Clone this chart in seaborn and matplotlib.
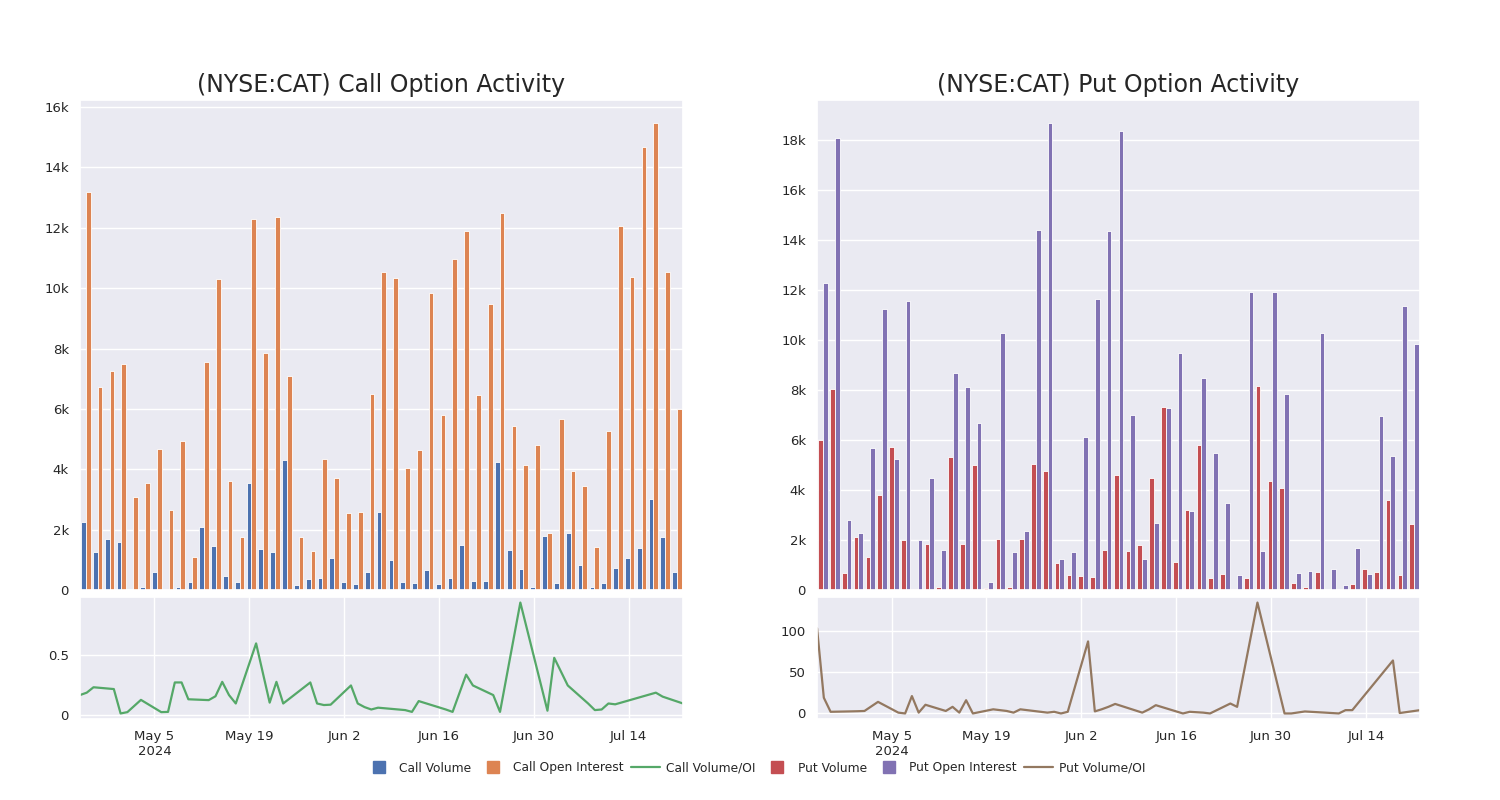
import matplotlib
matplotlib.use("Agg")
import matplotlib.pyplot as plt
import matplotlib.dates as mdates
from matplotlib.lines import Line2D
from matplotlib.ticker import FuncFormatter, MultipleLocator
import numpy as np
import pandas as pd
import seaborn as sns

# ---------------- data ----------------
dates = [
    "2024-04-24", "2024-04-25", "2024-04-26", "2024-04-29", "2024-04-30", "2024-05-01",
    "2024-05-03", "2024-05-06", "2024-05-07", "2024-05-08", "2024-05-09", "2024-05-10",
    "2024-05-13", "2024-05-14", "2024-05-15", "2024-05-16", "2024-05-17", "2024-05-20",
    "2024-05-22", "2024-05-23", "2024-05-24", "2024-05-28", "2024-05-29", "2024-05-30",
    "2024-05-31", "2024-06-03", "2024-06-04", "2024-06-05", "2024-06-06", "2024-06-07",
    "2024-06-11", "2024-06-12", "2024-06-13", "2024-06-17", "2024-06-18", "2024-06-20",
    "2024-06-21", "2024-06-24", "2024-06-25", "2024-06-28", "2024-07-02", "2024-07-03",
    "2024-07-05", "2024-07-08", "2024-07-09", "2024-07-10", "2024-07-11", "2024-07-12",
    "2024-07-18", "2024-07-19", "2024-07-22",
]

call_volume = [
    2250, 1270, 1680, 1600, 40, 90, 590, 40, 90, 277, 2100, 1450, 450, 250, 3550, 1350,
    1250, 4300, 150, 350, 400, 1050, 250, 200, 600, 2600, 1000, 250, 230, 660, 200, 390,
    1490, 300, 300, 4230, 1330, 700, 110, 1790, 220, 1880, 830, 110, 240, 720, 1050, 1400,
    3010, 1740, 610,
]
call_oi = [
    13200, 6720, 7260, 7490, 3070, 3560, 4670, 2650, 4920, 1100, 7550, 10300, 3600, 1750,
    12300, 7850, 12350, 7100, 1750, 1300, 4350, 3700, 2550, 2600, 6500, 10520, 10350, 4040,
    4650, 9850, 5790, 10980, 11900, 6470, 9480, 12480, 5420, 4150, 4810, 1880, 5680, 3930,
    3460, 1440, 5280, 12060, 10370, 14660, 15460, 10550, 5980,
]
call_ratio = [
    0.17, 0.19, 0.235, 0.22, 0.017, 0.028, 0.13, 0.028, 0.03, 0.275, 0.275, 0.135, 0.128,
    0.16, 0.28, 0.17, 0.10, 0.60, 0.107, 0.28, 0.10, 0.275, 0.10, 0.087, 0.09, 0.25, 0.10,
    0.07, 0.05, 0.065, 0.045, 0.03, 0.12, 0.05, 0.03, 0.34, 0.25, 0.17, 0.03, 0.94, 0.04,
    0.48, 0.25, 0.10, 0.045, 0.05, 0.10, 0.093, 0.19, 0.157, 0.10,
]

put_volume = [
    6000, 8030, 700, 2130, 1320, 3810, 5740, 1990, 40, 1830, 120, 5310, 1860, 5010, 70,
    2050, 120, 2050, 5040, 4770, 1070, 600, 550, 520, 1590, 4610, 1560, 1790, 4470, 7340,
    1140, 3210, 5790, 480, 630, 30, 470, 8160, 4370, 4100, 280, 120, 740, 10, 10, 250,
    840, 710, 3600, 590, 2630,
]
put_oi = [
    12290, 18100, 2790, 2290, 5700, 11240, 5250, 11560, 2020, 4470, 1620, 8700, 8140, 6670,
    330, 10270, 1540, 2380, 14400, 18680, 1240, 1520, 6110, 11630, 14370, 18380, 7020, 1260,
    2700, 7290, 9480, 3170, 8500, 5470, 3480, 610, 11940, 1560, 11910, 7860, 670, 760,
    10280, 830, 200, 1670, 630, 6950, 5370, 11380, 9850,
]
put_ratio = [
    103, 19, 2, 2.5, 2.7, 3, 14, 1, 0, 21, 1, 10.5, 3, 8, 1, 16, 0, 5, 3, 1, 5, 1, 2, 0,
    2, 87, 2.5, 5, 8, 11.5, 1, 5, 10, 0, 2, 1, 0, 12, 8, 134, 0, 0, 2.4, 1, 0.5, 0, 4, 4,
    64, 0.5, 4,
]

date_ticks = ["2024-05-05", "2024-05-19", "2024-06-02", "2024-06-16", "2024-06-30", "2024-07-14"]
date_tick_labels = ["May 5\n2024", "May 19", "Jun 2", "Jun 16", "Jun 30", "Jul 14"]

call_title = "(NYSE:CAT) Call Option Activity"
put_title = "(NYSE:CAT) Put Option Activity"
call_labels = ["Call Volume", "Call Open Interest", "Call Volume/OI"]
put_labels = ["Put Volume", "Put Open Interest", "Put Volume/OI"]

# ---------------- style ----------------
sns.set_theme(style="darkgrid")
plt.rcParams["font.family"] = ["DejaVu Sans"]
pal = sns.color_palette("deep")
call_colors = [pal[0], pal[1], pal[2]]
put_colors = [pal[3], pal[4], pal[5]]

fig = plt.figure(figsize=(15, 8), dpi=100)

dt = pd.to_datetime(dates)
n = len(dates)


def k_fmt(v, _):
    if v == 0:
        return "0"
    return f"{v/1000:g}k"


def draw_panel(x0, vol, oi, ratio, labels, colors, title, ratio_step):
    ax_bar = fig.add_axes([x0, 0.2625, 0.402, 0.6125])
    ax_line = fig.add_axes([x0, 0.10125, 0.402, 0.1525])

    df = pd.DataFrame({
        "date": dates * 2,
        "value": list(vol) + list(oi),
        "series": [labels[0]] * n + [labels[1]] * n,
    })
    sns.barplot(data=df, x="date", y="value", hue="series",
                palette=colors[:2], saturation=1, linewidth=0.6,
                ax=ax_bar, legend=False)
    ax_bar.set_xticks(list(range(0, n, 10)))
    ax_bar.set_xticklabels([])
    ax_bar.set_xlabel("")
    ax_bar.set_ylabel("")
    ax_bar.set_xlim(-0.5, n - 0.5)
    ax_bar.yaxis.set_major_locator(MultipleLocator(2000))
    ax_bar.yaxis.set_major_formatter(FuncFormatter(k_fmt))
    ax_bar.tick_params(axis="y", labelsize=9.5, pad=2)
    ax_bar.set_title(title, fontsize=17, pad=6)

    sns.lineplot(x=dt, y=ratio, ax=ax_line, color=colors[2], linewidth=1.6)
    ax_line.set_xlim(dt[0], dt[-1])
    ax_line.set_xticks(pd.to_datetime(date_ticks))
    ax_line.set_xticklabels(date_tick_labels)
    ax_line.yaxis.set_major_locator(MultipleLocator(ratio_step))
    ax_line.yaxis.set_major_formatter(FuncFormatter(lambda v, _: f"{v:g}"))
    ax_line.tick_params(axis="both", labelsize=9.5, pad=2)
    ax_line.set_xlabel("")
    ax_line.set_ylabel("")


draw_panel(0.0533, call_volume, call_oi, call_ratio, call_labels, call_colors, call_title, 0.5)
draw_panel(0.5447, put_volume, put_oi, put_ratio, put_labels, put_colors, put_title, 50)

handles = [
    Line2D([], [], marker="s", linestyle="", markersize=9, color=call_colors[0]),
    Line2D([], [], marker="s", linestyle="", markersize=9, color=call_colors[1]),
    Line2D([], [], color=call_colors[2], linewidth=1.6),
    Line2D([], [], marker="s", linestyle="", markersize=9, color=put_colors[0]),
    Line2D([], [], marker="s", linestyle="", markersize=9, color=put_colors[1]),
    Line2D([], [], color=put_colors[2], linewidth=1.6),
]
fig.legend(handles, call_labels + put_labels, loc="center",
           bbox_to_anchor=(0.503, 1 - 768 / 800), ncol=6, frameon=False,
           fontsize=8.8, handlelength=2.4, handletextpad=0.45, columnspacing=0.6)

fig.savefig("out.png", dpi=100)
